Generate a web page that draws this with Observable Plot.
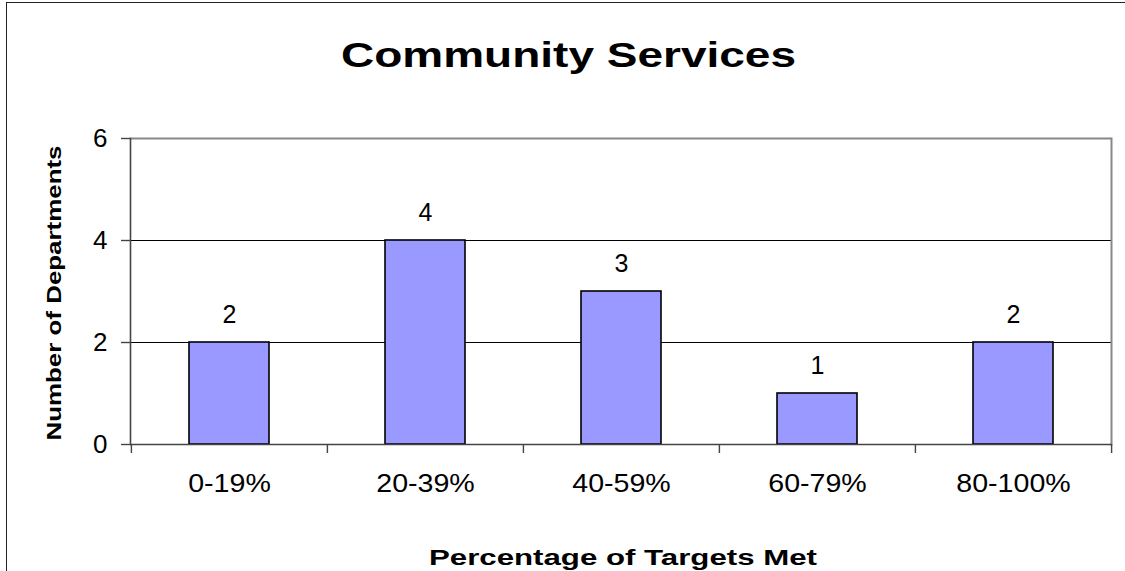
<!DOCTYPE html>
<html>
<head>
<meta charset="utf-8">
<script src="https://cdn.jsdelivr.net/npm/d3@7"></script>
<script src="https://cdn.jsdelivr.net/npm/@observablehq/plot@0.6"></script>
<style>
  html, body { margin: 0; padding: 0; background: #fff; }
  #wrap { position: relative; width: 1125px; height: 571px; overflow: hidden; }
  #border { position: absolute; left: 6px; top: 2px; width: 1300px; height: 700px; border: 1.5px solid #222; box-sizing: border-box; pointer-events: none; }
  #chart { position: absolute; left: 0; top: 0; }
</style>
</head>
<body>
<div id="wrap"><div id="chart"></div><div id="border"></div></div>
<script>
const categories = ["0-19%", "20-39%", "40-59%", "60-79%", "80-100%"];
const counts = [2, 4, 3, 1, 2];
const yTicks = [0, 2, 4, 6];
const titleText = "Community Services";
const xTitle = "Percentage of Targets Met";
const yTitle = "Number of Departments";

const data = categories.map((c, i) => ({category: c, count: counts[i]}));

const W = 1125, H = 571;
const mL = 130, mR = 14, mT = 138, mB = 127;
const step = (W - mL - mR) / categories.length;
const font = "Liberation Sans, Arial, sans-serif";

const chart = Plot.plot({
  width: W,
  height: H,
  marginLeft: mL,
  marginRight: mR,
  marginTop: mT,
  marginBottom: mB,
  style: {fontFamily: font, background: "white", overflow: "visible"},
  x: {domain: categories, paddingInner: 0.592, paddingOuter: 0.296, axis: null},
  y: {domain: [0, 6], ticks: yTicks, axis: null},
  marks: [
    // grid lines
    Plot.ruleY([2, 4], {stroke: "#000", strokeWidth: 1}),
    // plot border top & right (gray)
    Plot.ruleY([6], {stroke: "#888", strokeWidth: 2}),
    Plot.frame({anchor: "right", stroke: "#888", strokeWidth: 2}),
    // bars
    Plot.barY(data, {x: "category", y: "count", fill: "#9999FF", stroke: "#000", strokeWidth: 1.6}),
    // axes lines
    Plot.frame({anchor: "left", stroke: "#444", strokeWidth: 1.6}),
    Plot.ruleY([0], {stroke: "#444", strokeWidth: 1.6}),
    // y ticks & labels
    Plot.axisY({ticks: yTicks, tickFormat: d3.format("d"), tickSize: 9, tickPadding: 14, fontSize: 26, stroke: "#444", strokeWidth: 1.4, label: null, fill: "#000"}),
    // x boundary ticks
    Plot.ruleX(categories, {x: d => d, dx: -step / 2, y1: 0, y2: 0, insetBottom: -9, stroke: "#444", strokeWidth: 1.4}),
    Plot.ruleX([categories[categories.length - 1]], {x: d => d, dx: step / 2, y1: 0, y2: 0, insetBottom: -9, stroke: "#444", strokeWidth: 1.4}),
    // x tick labels
    Plot.text(data, {x: "category", frameAnchor: "bottom", dy: 47, lineAnchor: "bottom", text: "category", fontSize: 26, fill: "#000", className: "xlab"}),
    // bar value labels
    Plot.text(data, {x: "category", y: "count", dy: -20, lineAnchor: "bottom", text: d => String(d.count), fontSize: 25, fill: "#000"}),
    // title
    Plot.text([titleText], {frameAnchor: "top", dx: 568 - (mL + (W - mL - mR) / 2), dy: 66 - mT, lineAnchor: "bottom", text: d => d, fontSize: 35, fontWeight: "bold", fill: "#000", className: "ttl"}),
    // x title
    Plot.text([xTitle], {frameAnchor: "bottom", dx: 2, dy: 120, lineAnchor: "bottom", text: d => d, fontSize: 22, fontWeight: "bold", fill: "#000", className: "xttl"}),
    // y title
    Plot.text([yTitle], {frameAnchor: "bottom-left", dx: -70, dy: -4, rotate: -90, textAnchor: "start", lineAnchor: "bottom", text: d => d, fontSize: 21, fontWeight: "bold", fill: "#000", className: "yttl"})
  ]
});

document.getElementById("chart").appendChild(chart);

function stretch(cls, len) {
  d3.select(chart).selectAll(`g.${cls} text`).each(function() {
    const t = typeof len === "function" ? len(this) : len;
    this.setAttribute("textLength", t);
    this.setAttribute("lengthAdjust", "spacingAndGlyphs");
  });
}
stretch("ttl", 455);
stretch("xttl", 388);
stretch("yttl", 295);
stretch("xlab", el => el.getComputedTextLength() * 1.1);
</script>
</body>
</html>
